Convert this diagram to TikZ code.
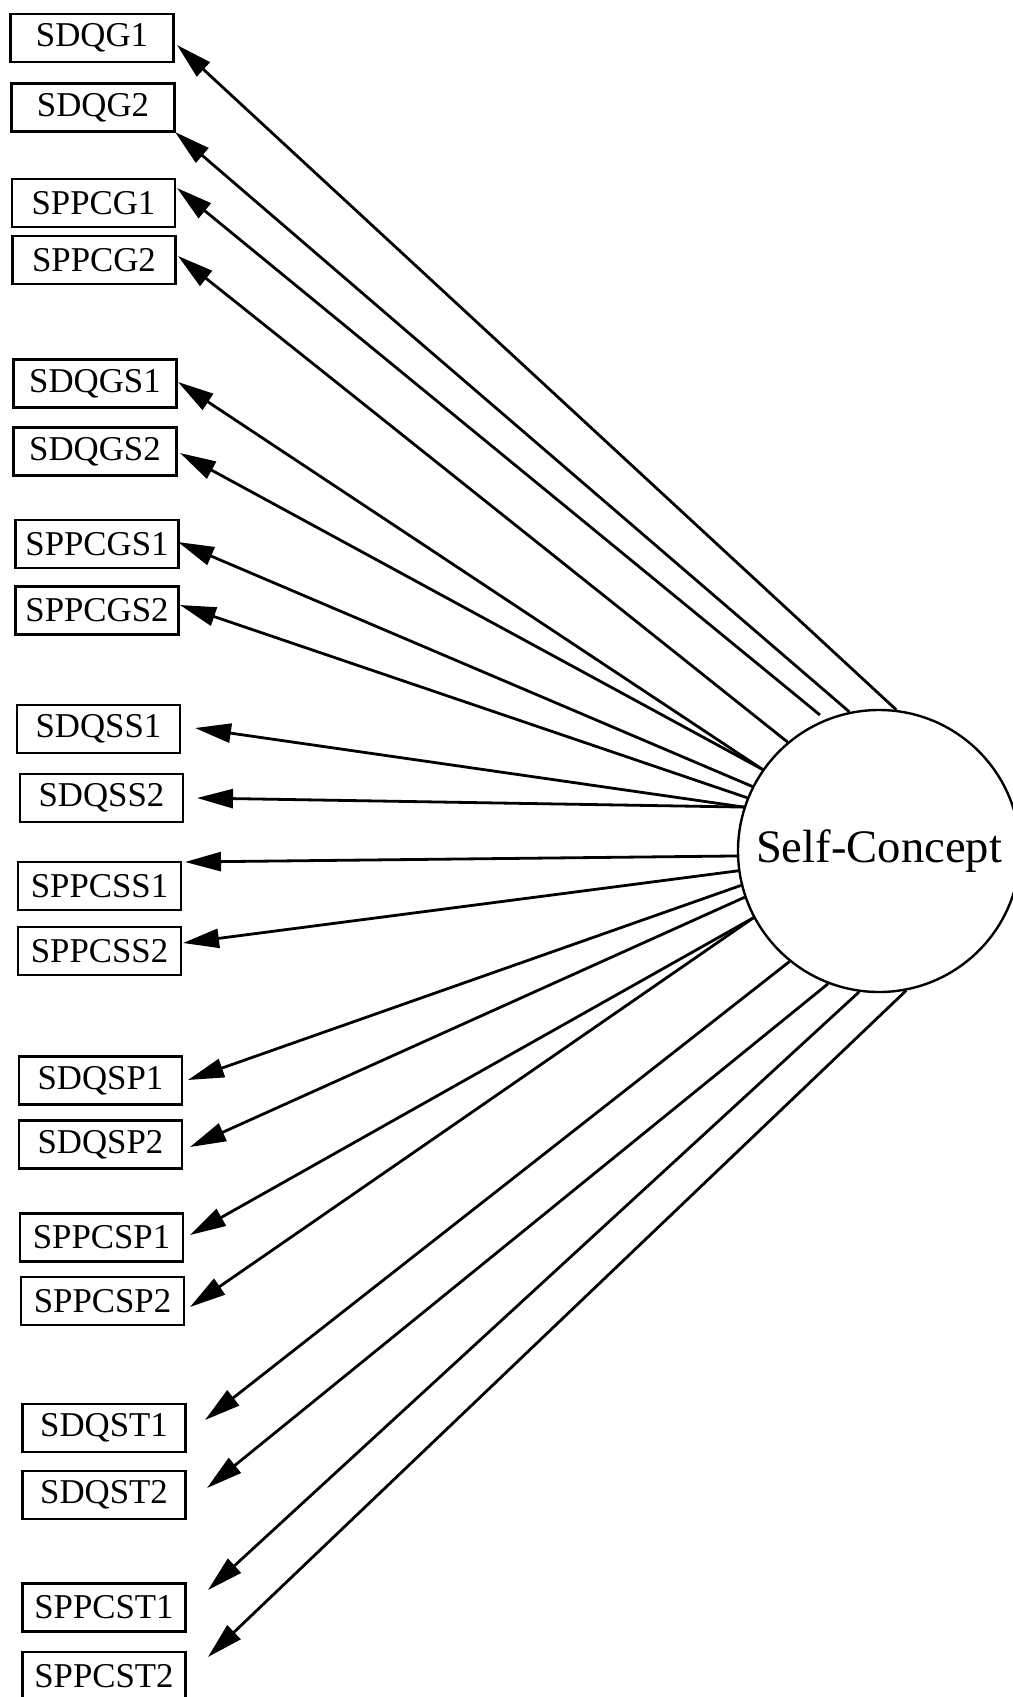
\documentclass[tikz,border=0pt]{standalone}
\usepackage{fontspec}
\setmainfont{Liberation Serif}
\usetikzlibrary{arrows.meta}
\begin{document}
\begin{tikzpicture}[x=0.5pt,y=-0.5pt,
  itembox/.style={draw,line width=1.2pt,minimum width=81.5pt,minimum height=24pt,
    inner sep=0pt,font=\fontsize{17.4}{20}\selectfont},
  latent/.style={draw,circle,line width=1.2pt,minimum size=141pt,inner sep=0pt,
    font=\fontsize{23.3}{28}\selectfont},
  load/.style={line width=1.4pt,-{Triangle[length=18pt,width=9.5pt]}}]
\useasboundingbox (0,0) rectangle (1012,1697);

% latent factor
\node[latent] (sc) at (879,851) {Self-Concept};

% observed indicators
\foreach \n/\x/\y/\t in {
  b1/92/38/SDQG1, b2/93/107.5/SDQG2, b3/93.5/203/SPPCG1, b4/94/260/SPPCG2,
  b5/95/383.5/SDQGS1, b6/95/451.5/SDQGS2, b7/97/544/SPPCGS1, b8/97/610.5/SPPCGS2,
  b9/98.5/729/SDQSS1, b10/101.5/798/SDQSS2, b11/99.5/886/SPPCSS1, b12/99.5/951/SPPCSS2,
  b13/100.5/1080.5/SDQSP1, b14/100.5/1144.5/SDQSP2, b15/101.5/1237.5/SPPCSP1, b16/102.5/1301/SPPCSP2,
  b17/104/1428/SDQST1, b18/104/1495/SDQST2, b19/104/1607.5/SPPCST1, b20/104/1676/SPPCST2}
  \node[itembox] (\n) at (\x,\y) {\t};

% arrow tips next to the indicators
\foreach \n/\x/\y in {
  t1/177/45, t2/175/132, t3/177/188, t4/178/256,
  t5/178/382, t6/180/453, t7/178/542, t8/180/605,
  t9/195/728, t10/197/798, t11/185/862, t12/183/943,
  t13/188/1080, t14/190/1147, t15/190/1235, t16/190/1307,
  t17/205/1420, t18/207/1488, t19/208/1590, t20/208/1657}
  \coordinate (\n) at (\x,\y);

% the SPPCG1 loading stops just short of the circle
\coordinate (s3) at (820,715);

% loadings
\foreach \a/\t in {
  83.6/t1, 102.3/t2, 130.3/t4,
  145.6/t5, 145.6/t6, 153.9/t7, 158/t8,
  162.8/t9, 162.8/t10, 182.8/t11, 188.9/t12,
  194/t13, 199/t14, 208.7/t15, 208.7/t16,
  231.3/t17, 249.6/t18, 262.3/t19, 281.4/t20}
  \draw[load] (sc.\a) -- (\t);
\draw[load] (s3) -- (t3);
\end{tikzpicture}
\end{document}
